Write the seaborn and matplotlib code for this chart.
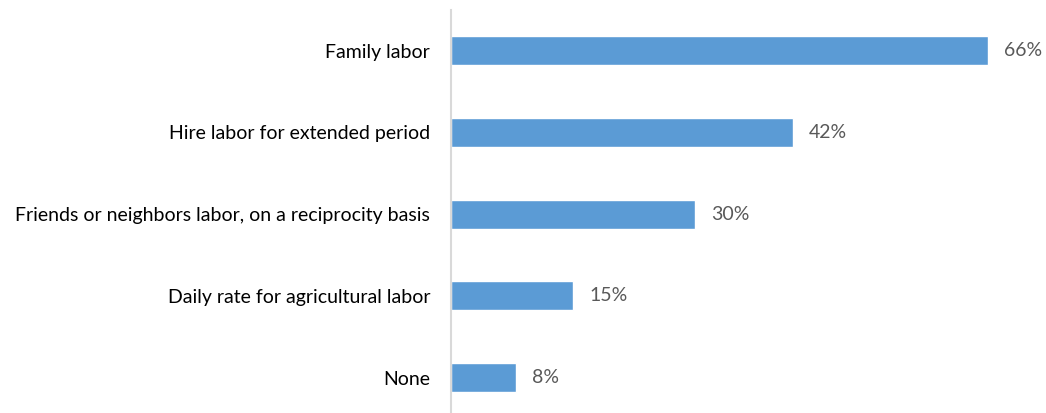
import matplotlib
matplotlib.use('Agg')
import matplotlib.pyplot as plt
import pandas as pd
import seaborn as sns

# Dados do gráfico
categories = ['Family labor', 'Hire labor for extended period',
              'Friends or neighbors labor, on a reciprocity basis',
              'Daily rate for agricultural labor', 'None']
values = [66, 42, 30, 15, 8]
value_labels = ['66%', '42%', '30%', '15%', '8%']

df = pd.DataFrame({'category': categories, 'value': values})

sns.set_style('white')
plt.rcParams['font.family'] = ['Lato', 'DejaVu Sans']

fig = plt.figure(figsize=(10.46, 4.13), dpi=100)
ax = fig.add_axes([0.4312, -0.0135, 0.5602, 0.990])

sns.barplot(data=df, x='value', y='category', orient='h', color='#5B9BD5',
            saturation=1, width=0.355, ax=ax)

ax.set_xlim(0, 72)
ax.set_ylim(4.5, -0.5)
ax.set_xlabel('')
ax.set_ylabel('')
ax.set_xticks([])
ax.tick_params(axis='y', length=0, pad=15, labelsize=14, labelcolor='#000000')

for s in ['top', 'right', 'bottom']:
    ax.spines[s].set_visible(False)
ax.spines['left'].set_color('#D9D9D9')
ax.spines['left'].set_linewidth(1.5)

# Rótulos de valor
for i, (v, lab) in enumerate(zip(values, value_labels)):
    ax.annotate(lab, xy=(v, i), xytext=(16, 0), textcoords='offset pixels',
                va='center', ha='left', fontsize=14, color='#595959')

fig.savefig('out.png', dpi=100)
